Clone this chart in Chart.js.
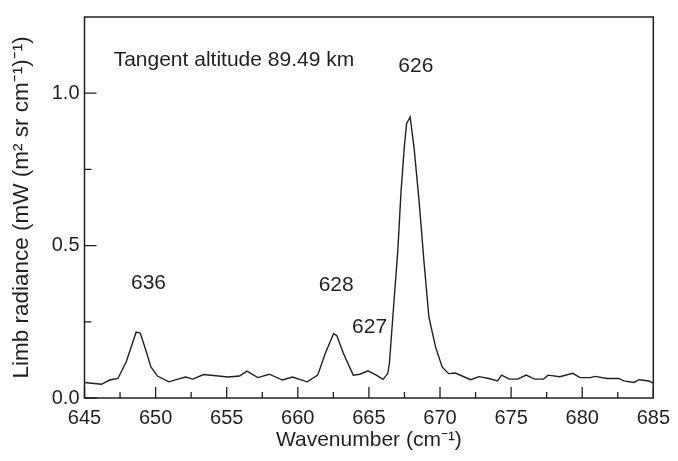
<!DOCTYPE html>
<html>
<head>
<meta charset="utf-8">
<script src="https://cdn.jsdelivr.net/npm/chart.js@4.4.1/dist/chart.umd.min.js"></script>
<style>
html,body{margin:0;padding:0;background:#fff;}
#wrap{width:678px;height:461px;}
</style>
</head>
<body>
<div id="wrap"><canvas id="c" width="678" height="461"></canvas></div>
<script>
const wavenumber = [645.0,646.19,646.77,647.35,647.93,648.63,648.92,649.32,649.67,650.13,650.94,651.51,652.10,652.63,653.37,655.1,655.9,656.42,657.19,658.0,658.92,659.62,660.66,661.40,661.93,662.51,662.74,663.21,663.90,664.36,664.94,665.52,665.99,666.33,666.44,666.68,667.03,667.26,667.49,667.65,667.90,668.18,668.53,668.87,669.22,669.69,670.15,670.61,671.08,672.15,672.74,673.44,674.04,674.33,674.87,675.46,676.06,676.65,677.28,677.60,678.42,679.33,679.85,680.56,680.91,681.74,682.57,682.92,683.64,684.0,684.70,685.0];
const radiance = [0.051,0.045,0.059,0.064,0.118,0.216,0.213,0.156,0.102,0.072,0.053,0.061,0.069,0.062,0.077,0.069,0.072,0.088,0.067,0.078,0.059,0.069,0.053,0.075,0.146,0.211,0.205,0.146,0.075,0.078,0.089,0.075,0.061,0.081,0.113,0.265,0.482,0.678,0.824,0.900,0.922,0.819,0.645,0.449,0.265,0.167,0.102,0.080,0.082,0.060,0.070,0.064,0.056,0.075,0.062,0.062,0.075,0.062,0.062,0.075,0.070,0.081,0.067,0.067,0.071,0.064,0.064,0.056,0.051,0.060,0.056,0.049];
const xTicks = [645,650,655,660,665,670,675,680,685];
const xMinorTicks = [647.5,652.5,657.5,662.5,667.5,672.5,677.5,682.5];
const yTicks = [0.0,0.5,1.0];
const yMinorTicks = [0.25,0.75];
const peakLabels = [
  {text:'636', x:649.5, y:0.375},
  {text:'628', x:662.7, y:0.371},
  {text:'627', x:665.05, y:0.231},
  {text:'626', x:668.3, y:1.09}
];
const annotationText = 'Tangent altitude 89.49 km';

const FONT = '"Liberation Sans", Arial, Helvetica, sans-serif';
const TXT = '#231f20';

const points = wavenumber.map((w,i)=>({x:w,y:radiance[i]}));

const framePlugin = {
  id:'frame',
  afterDatasetsDraw(chart){
    const ctx = chart.ctx, a = chart.chartArea;
    const xs = chart.scales.x, ys = chart.scales.y;
    ctx.save();
    ctx.strokeStyle = '#231f20';
    ctx.lineWidth = 1.5;
    ctx.strokeRect(a.left, a.top, a.right-a.left, a.bottom-a.top);
    ctx.lineWidth = 1.3;
    ctx.beginPath();
    xTicks.forEach(v=>{const p=xs.getPixelForValue(v); ctx.moveTo(p,a.bottom); ctx.lineTo(p,a.bottom-11);});
    xMinorTicks.forEach(v=>{const p=xs.getPixelForValue(v); ctx.moveTo(p,a.bottom); ctx.lineTo(p,a.bottom-6);});
    yTicks.forEach(v=>{const p=ys.getPixelForValue(v); ctx.moveTo(a.left,p); ctx.lineTo(a.left+12,p);});
    yMinorTicks.forEach(v=>{const p=ys.getPixelForValue(v); ctx.moveTo(a.left,p); ctx.lineTo(a.left+7,p);});
    ctx.stroke();
    ctx.fillStyle = TXT;
    ctx.font = '21px ' + FONT;
    ctx.textAlign = 'center';
    ctx.textBaseline = 'middle';
    peakLabels.forEach(l=>{
      ctx.fillText(l.text, xs.getPixelForValue(l.x), ys.getPixelForValue(l.y));
    });
    ctx.textAlign = 'left';
    ctx.fillText(annotationText, xs.getPixelForValue(647.05), ys.getPixelForValue(1.107));
    ctx.restore();
  }
};

new Chart(document.getElementById('c'), {
  type:'line',
  data:{datasets:[{data:points, borderColor:'#231f20', borderWidth:1.4, pointRadius:0, tension:0, fill:false}]},
  options:{
    responsive:false,
    animation:false,
    devicePixelRatio:1,
    layout:{padding:{top:15,right:16.5,left:0,bottom:0}},
    plugins:{legend:{display:false}, tooltip:{enabled:false}},
    scales:{
      x:{
        type:'linear', min:645, max:685,
        afterBuildTicks(s){ s.ticks = xTicks.map(v=>({value:v})); },
        afterFit(s){ s.height = 63; },
        grid:{display:false, drawTicks:false},
        border:{display:false},
        ticks:{color:TXT, font:{family:FONT,size:20}, padding:8, maxRotation:0, autoSkip:false, callback:v=>String(v)},
        title:{display:true, text:'Wavenumber (cm\u207B\u00B9)', color:TXT, font:{family:FONT,size:21}, padding:{top:2,bottom:8}}
      },
      y:{
        type:'linear', min:0, max:1.25,
        afterBuildTicks(s){ s.ticks = yTicks.map(v=>({value:v})); },
        afterFit(s){ s.width = 84.5; },
        grid:{display:false, drawTicks:false},
        border:{display:false},
        ticks:{color:TXT, font:{family:FONT,size:20}, padding:5, callback:v=>v.toFixed(1)},
        title:{display:true, text:'Limb radiance (mW (m\u00B2 sr cm\u207B\u00B9)\u207B\u00B9)', color:TXT, font:{family:FONT,size:22.5}, padding:{top:8,bottom:2}}
      }
    }
  },
  plugins:[framePlugin]
});
</script>
</body>
</html>
